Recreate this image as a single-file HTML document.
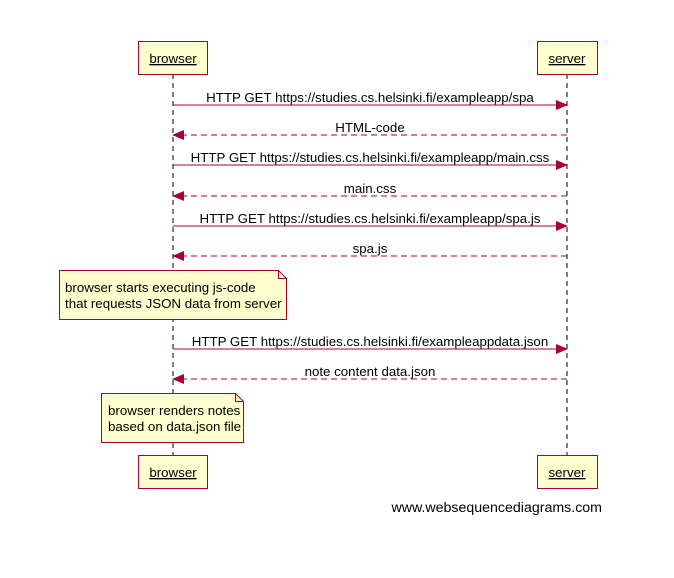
<!DOCTYPE html>
<html><head><style>body{margin:0;background:#fff}</style></head><body>
<svg width="674" height="573" xmlns="http://www.w3.org/2000/svg" font-family="Liberation Sans, sans-serif" font-size="13.3" fill="#000">
<defs>
<marker id="a" markerWidth="12" markerHeight="10" refX="11" refY="5" orient="auto" markerUnits="userSpaceOnUse"><path d="M0,0 L12,5 L0,10 Z" fill="#a80036"/></marker>
</defs>
<line x1="173" y1="74" x2="173" y2="455" stroke="#000" stroke-dasharray="5,4"/>
<line x1="567" y1="74" x2="567" y2="455" stroke="#000" stroke-dasharray="5,4"/>
<g fill="#fefece" stroke="#a80036" stroke-width="1">
<rect x="138.5" y="41.5" width="69" height="33"/>
<rect x="537.5" y="41.5" width="60" height="33"/>
<rect x="138.5" y="455.5" width="69" height="33"/>
<rect x="537.5" y="455.5" width="60" height="33"/>
</g>
<g text-anchor="middle" text-decoration="underline">
<text x="173" y="63">browser</text><text x="567" y="63">server</text>
<text x="173" y="477">browser</text><text x="567" y="477">server</text>
</g>
<g stroke="#a80036" fill="none">
<line x1="173" y1="105" x2="567" y2="105" marker-end="url(#a)"/>
<line x1="567" y1="135" x2="173" y2="135" stroke-dasharray="6,4" marker-end="url(#a)"/>
<line x1="173" y1="165" x2="567" y2="165" marker-end="url(#a)"/>
<line x1="567" y1="196" x2="173" y2="196" stroke-dasharray="6,4" marker-end="url(#a)"/>
<line x1="173" y1="226" x2="567" y2="226" marker-end="url(#a)"/>
<line x1="567" y1="256" x2="173" y2="256" stroke-dasharray="6,4" marker-end="url(#a)"/>
<line x1="173" y1="349" x2="567" y2="349" marker-end="url(#a)"/>
<line x1="567" y1="379" x2="173" y2="379" stroke-dasharray="6,4" marker-end="url(#a)"/>
</g>
<g text-anchor="middle">
<text x="370" y="102">HTTP GET https://studies.cs.helsinki.fi/exampleapp/spa</text>
<text x="370" y="132">HTML-code</text>
<text x="370" y="162">HTTP GET https://studies.cs.helsinki.fi/exampleapp/main.css</text>
<text x="370" y="193">main.css</text>
<text x="370" y="223">HTTP GET https://studies.cs.helsinki.fi/exampleapp/spa.js</text>
<text x="370" y="253">spa.js</text>
<text x="370" y="346">HTTP GET https://studies.cs.helsinki.fi/exampleappdata.json</text>
<text x="370" y="376">note content data.json</text>
</g>
<g fill="#fefece" stroke="#a80036">
<path d="M59.5,270.5 H278.5 L286.5,278.5 V319.5 H59.5 Z"/>
<path d="M278.5,270.5 V278.5 H286.5" fill="none"/>
<path d="M101.5,393.5 H235.5 L243.5,401.5 V442.5 H101.5 Z"/>
<path d="M235.5,393.5 V401.5 H243.5" fill="none"/>
</g>
<text x="65" y="292">browser starts executing js-code</text>
<text x="65" y="308">that requests JSON data from server</text>
<text x="108" y="415">browser renders notes</text>
<text x="108" y="431">based on data.json file</text>
<text x="602" y="512" text-anchor="end" font-size="14.2">www.websequencediagrams.com</text>
</svg>
</body></html>
